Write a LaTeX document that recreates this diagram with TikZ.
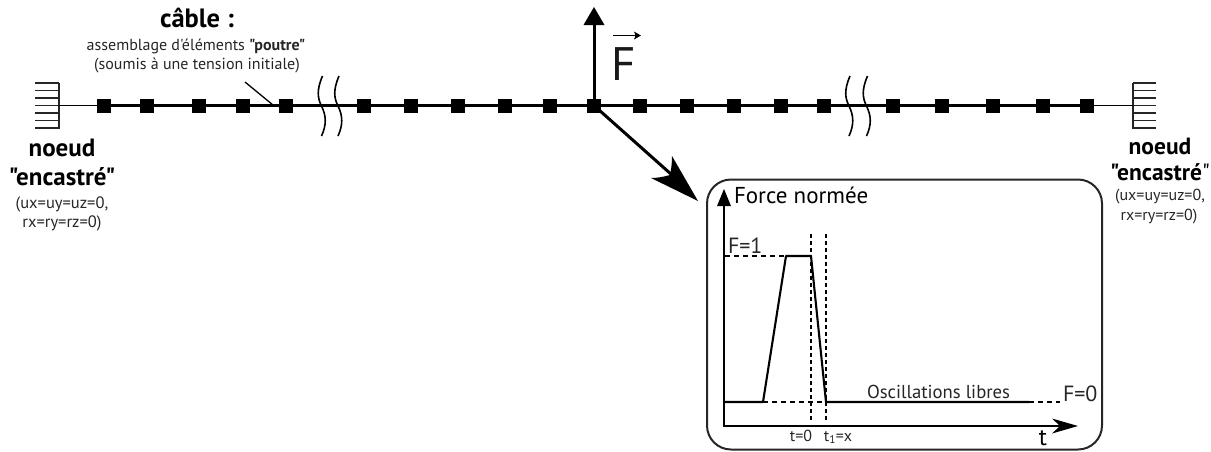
\documentclass[tikz,border=0pt]{standalone}
\usepackage{fontspec}
\setmainfont{PT Sans}
\newfontfamily\plainf{PT Sans}
\newcommand{\fsz}[1]{\plainf\fontsize{#1}{#1}\selectfont}
\tikzset{
  elem/.style={draw=none,fill=black,minimum size=14pt,inner sep=0pt,outer sep=0pt},
  thinline/.style={line width=1.5pt,black},
  beam/.style={line width=2.6pt,black},
  hatchline/.style={line width=1.3pt,black!85},
  breakmark/.style={line width=1.6pt,black},
  curve/.style={line width=2.1pt,black,line join=round},
  axisline/.style={line width=2.6pt,black},
  dashline/.style={line width=1.1pt,black,dash pattern=on 5pt off 4pt},
  dotline/.style={line width=1.3pt,black,dash pattern=on 3.5pt off 3.5pt},
  lab/.style={inner sep=0pt,outer sep=0pt,black!85,align=center},
  head/.style={fill=black,draw=none},
}
\begin{document}
\begin{tikzpicture}[x=1pt,y=-1pt]
\useasboundingbox (0,0) rectangle (1211,451);
% clamps
\coordinate (wallL) at (59,105.5);
\coordinate (wallR) at (1133,105.5);
\foreach \y in {83,90.5,98,105.5,113,120.5,128}{
  \draw[hatchline] (35,\y) -- (59,\y);
  \draw[hatchline] (1133,\y) -- (1156,\y);
}
\draw[hatchline] (59,82.5) -- (59,128.5);
\draw[hatchline] (1133,82.5) -- (1133,128.5);
% elements
\foreach \n/\x in {1/104,2/147,3/199,4/243,5/286,6/364,7/411,8/458,9/505,10/550,11/594,12/640,13/687,14/734,15/781,16/824,17/893,18/942,19/993,20/1043,21/1087}{
  \node[elem] (n\n) at (\x,105.5) {};
}
\draw[thinline] (wallL) -- (n1);
\draw[beam] (n1) -- (n21);
\draw[thinline] (n21) -- (wallR);
% break marks
\foreach \x in {322.5,339,850,867.5}{
  \draw[breakmark] (\x,76) .. controls (\x-6,90) and (\x-5,98) .. (\x-1,106) .. controls (\x+4,116) and (\x+4,125) .. (\x-1,136);
}
% leader
\coordinate (lead) at (245,82);
\draw[line width=1.3pt,black] (lead) -- (273,105);
% force arrow
\coordinate (upTip) at (594,7);
\coordinate (upBase) at (594,24);
\draw[line width=3pt] (n11.center) -- (upBase);
\fill[head] (upTip) -- (604.5,25) -- (583.5,25) -- cycle;
\coordinate (fTail) at (613,35.5);
\coordinate (fTip) at (641,35.5);
\draw[line width=1.4pt] (fTail) -- (637,35.5);
\fill[head] (fTip) -- (634,31.5) -- (635.5,35.5) -- (634,39.5) -- cycle;
\node[lab,black!90,anchor=base west] (F) at (611,80) {\fsz{47}F};
% big arrow
\coordinate (bigTip) at (698,201);
\draw[line width=3pt] (n11.center) -- (672,175);
\fill[head] (bigTip) -- (672,156) .. controls (672,165) and (671,170) .. (670,175) .. controls (663,177) and (657,178) .. (651,178) -- cycle;
% box
\node[draw=black!85,line width=2pt,rounded corners=24pt,minimum width=395pt,minimum height=270pt,inner sep=0pt,outer sep=0pt] (box) at (904.5,314.5) {};
% axes
\coordinate (org) at (724,426);
\coordinate (yTip) at (724,189);
\coordinate (xTip) at (1078,426);
\draw[axisline] (org) -- (724,204);
\fill[head] (yTip) -- (731,206) -- (717,206) -- cycle;
\draw[axisline] (722.7,426) -- (1060,426);
\fill[head] (xTip) -- (1052,418.5) -- (1060,426) -- (1052,433.5) -- cycle;
% signal
\coordinate (s1) at (724,402);
\coordinate (s2) at (763,402);
\coordinate (s3) at (786,256);
\coordinate (s4) at (811,256);
\coordinate (s5) at (826,402);
\coordinate (s6) at (1029,402);
\coordinate (s7) at (1060,402);
\draw[curve] (s1) -- (s2) -- (s3) -- (s4) -- (s5) -- (s6);
\draw[dashline] (725,256) -- (s3);
\draw[dashline] (s2) -- (s5);
\draw[dashline] (s6) -- (s7);
\coordinate (d1) at (811,234);
\coordinate (d2) at (811,423);
\coordinate (d3) at (826,234);
\coordinate (d4) at (826,423);
\draw[dotline] (d1) -- (d2);
\draw[dotline] (d3) -- (d4);
% labels
\node[lab,font=\bfseries\fsz{26.5},black] (cable) at (197,18) {câble :};
\node[lab,font=\fsz{16}] (assem) at (196,46) {assemblage d'éléments \textbf{"poutre"}};
\node[lab,font=\fsz{16}] (soumis) at (197,65) {(soumis à une tension initiale)};
\node[lab,font=\bfseries\fsz{25},black] (noeudL) at (62,148) {noeud};
\node[lab,font=\bfseries\fsz{25},black] (encL) at (62,177) {"encastré"};
\node[lab,font=\fsz{16.5}] (uL) at (62,204) {(ux=uy=uz=0,};
\node[lab,font=\fsz{16.5}] (rL) at (62,223) {rx=ry=rz=0)};
\node[lab,font=\bfseries\fsz{23.5},black] (noeudR) at (1160,146) {noeud};
\node[lab,font=\bfseries\fsz{23.5},black] (encR) at (1160,172) {"encastré\textmd{"}};
\node[lab,font=\fsz{16}] (uR) at (1160,197) {(ux=uy=uz=0,};
\node[lab,font=\fsz{16}] (rR) at (1159,217) {rx=ry=rz=0)};
\node[lab,font=\fsz{23},anchor=base west,black] (fn) at (734,203) {Force normée};
\node[lab,font=\fsz{22},anchor=base west] (f1) at (728,253) {F=1};
\node[lab,font=\fsz{18.7},anchor=base west] (osc) at (867,398) {Oscillations libres};
\node[lab,font=\fsz{22},anchor=base west] (f0) at (1063,401) {F=0};
\node[lab,font=\fsz{16},anchor=base] (t0) at (801,441) {t=0};
\node[lab,font=\fsz{16},anchor=base] (t1) at (838,441) {t\textsubscript{1}=x};
\node[lab,font=\fsz{24},anchor=base,black] (tl) at (1043,445) {t};
\end{tikzpicture}
\end{document}
